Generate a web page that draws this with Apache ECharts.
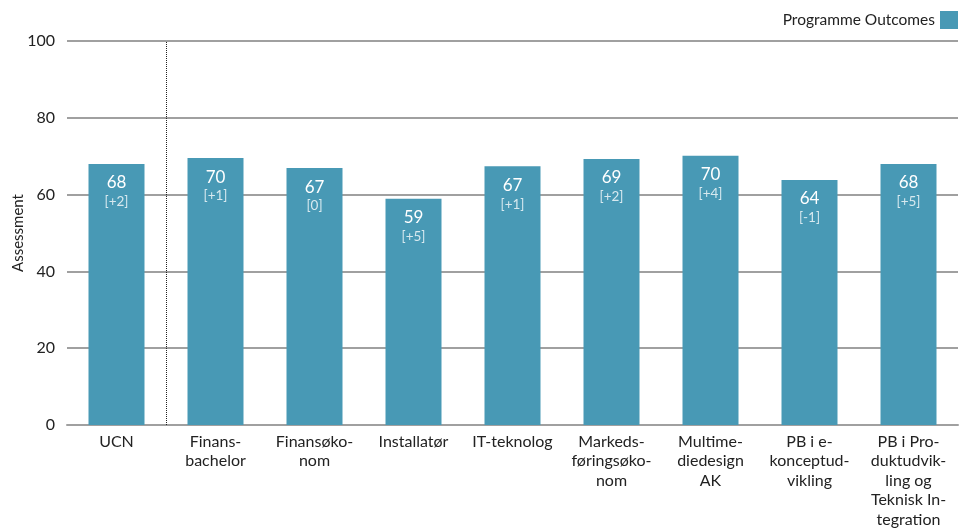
<!DOCTYPE html>
<html><head><meta charset="utf-8">
<script src="https://cdn.jsdelivr.net/npm/echarts@6/dist/echarts.min.js"></script>
<style>html,body{margin:0;padding:0;background:#fff}#c{width:967px;height:528px}</style>
</head><body><div id="c"></div>
<script>
var categories = ["UCN","Finans-\nbachelor","Finansøko-\nnom","Installatør","IT-teknolog","Markeds-\nføringsøko-\nnom","Multime-\ndiedesign\nAK","PB i e-\nkonceptud-\nvikling","PB i Pro-\nduktudvik-\nling og\nTeknisk In-\ntegration"];
var values = [68.0, 69.5, 66.9, 58.9, 67.4, 69.3, 70.1, 63.8, 68.0];
var deltas = ["+2","+1","0","+5","+1","+2","+4","-1","+5"];
var yTicks = [0, 20, 40, 60, 80, 100];
var dividerAfter = 0.5; // boundary between "UCN" and the programmes
var seriesName = "Programme Outcomes";
var FONT = "Lato";
var chart = echarts.init(document.getElementById('c'));
chart.setOption({
  animation: false,
  textStyle: {fontFamily: FONT},
  legend: {
    data: [seriesName], right: 4, top: 6, align: 'right', icon: 'rect',
    itemWidth: 18, itemHeight: 18, itemGap: 8,
    textStyle: {fontFamily: FONT, fontSize: 15.5, color: '#222'}
  },
  grid: {left: 67, right: 9, top: 41, bottom: 103, containLabel: false, outerBoundsMode: 'none'},
  xAxis: [{
    type: 'category', data: categories,
    axisLine: {lineStyle: {color: '#a0a0a0', width: 2}},
    axisTick: {show: false},
    axisLabel: {fontFamily: FONT, fontSize: 16, color: '#222', lineHeight: 19.5, margin: 7, interval: 0},
    splitLine: {show: false}
  }, {
    type: 'value', min: -0.5, max: categories.length - 0.5, show: false,
    splitLine: {show: false}
  }],
  yAxis: {
    type: 'value', min: 0, max: 100, interval: 20,
    name: 'Assessment', nameLocation: 'middle', nameGap: 41, nameMoveOverlap: false,
    nameTextStyle: {fontFamily: FONT, fontSize: 15, color: '#222'},
    axisLabel: {fontFamily: FONT, fontSize: 16, color: '#222', margin: 12,
      formatter: function(v){ return yTicks.indexOf(v) >= 0 ? String(v) : ''; }},
    axisLine: {show: false}, axisTick: {show: false},
    splitLine: {lineStyle: {color: '#a0a0a0', width: 2}}
  },
  series: [{
    name: seriesName, type: 'bar', barWidth: 56, xAxisIndex: 0,
    itemStyle: {color: '#4899b5'},
    data: values,
    label: {
      show: true, position: 'insideTop', distance: 9,
      formatter: function(p){ return '{a|' + Math.round(p.value) + '}\n{b|[' + deltas[p.dataIndex] + ']}'; },
      rich: {
        a: {fontFamily: FONT, fontSize: 17, color: '#fff', lineHeight: 20},
        b: {fontFamily: FONT, fontSize: 13.5, color: 'rgba(255,255,255,0.78)', lineHeight: 18}
      }
    }
  }, {
    name: 'divider', type: 'line', xAxisIndex: 1, data: [], silent: true,
    markLine: {
      silent: true, symbol: 'none', label: {show: false},
      lineStyle: {type: 'dotted', color: '#222', width: 1},
      data: [{xAxis: dividerAfter}]
    }
  }]
});
</script></body></html>
